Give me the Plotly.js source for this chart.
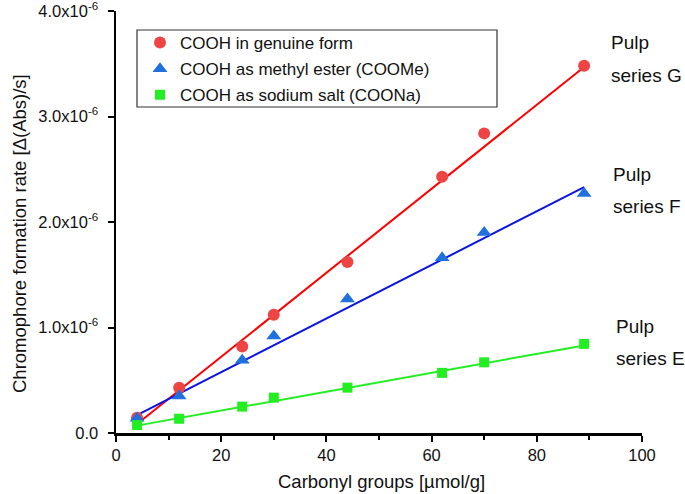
<!DOCTYPE html>
<html>
<head>
<meta charset="utf-8">
<script src="https://cdn.plot.ly/plotly-3.0.1.min.js"></script>
<style>
  html, body { margin: 0; padding: 0; background: #fff; }
  #chart { width: 685px; height: 494px; }
</style>
</head>
<body>
<div id="chart"></div>
<script>
// carbonyl groups [µmol/g]
const carbonyl = [4, 12, 24, 30, 44, 62, 70, 89];

// chromophore formation rate per series
const rateGenuine = [0.145e-6, 0.43e-6, 0.82e-6, 1.12e-6, 1.62e-6, 2.43e-6, 2.84e-6, 3.48e-6];
const rateMethyl  = [0.14e-6, 0.35e-6, 0.69e-6, 0.92e-6, 1.27e-6, 1.66e-6, 1.90e-6, 2.27e-6];
const rateSodium  = [0.075e-6, 0.135e-6, 0.25e-6, 0.335e-6, 0.43e-6, 0.57e-6, 0.67e-6, 0.845e-6];

// regression line endpoints
const fitX = [4, 89];
const fitGenuine = [0.085e-6, 3.47e-6];
const fitMethyl  = [0.17e-6, 2.33e-6];
const fitSodium  = [0.07e-6, 0.83e-6];

const legendNames = ['COOH in genuine form', 'COOH as methyl ester (COOMe)', 'COOH as sodium salt (COONa)'];
const seriesLabels = ['series G', 'series F', 'series E'];

const yTickVals = [0, 1e-6, 2e-6, 3e-6, 4e-6];
const yTickText = ['0.0', '1.0x10<sup>-6</sup>', '2.0x10<sup>-6</sup>', '3.0x10<sup>-6</sup>', '4.0x10<sup>-6</sup>'];

// plot area in pixels, used to place paper-referenced labels
const L = 116, R = 642, T = 11, B = 433;
const px = x => (x - L) / (R - L);
const py = y => (B - y) / (B - T);

const fitLine = (y, color) => ({
    x: fitX, y: y, mode: 'lines', showlegend: false, hoverinfo: 'skip',
    line: { color: color, width: 2 }
});

const traces = [
    fitLine(fitGenuine, '#ff0000'),
    fitLine(fitMethyl, '#0a14e6'),
    fitLine(fitSodium, '#22ee22'),
    { x: carbonyl, y: rateGenuine, mode: 'markers', name: legendNames[0], legendgroup: 'g',
      marker: { symbol: 'circle', size: 12, color: '#ee4444' }, cliponaxis: false },
    { x: carbonyl, y: rateMethyl, mode: 'markers', name: legendNames[1], legendgroup: 'f',
      marker: { symbol: 'triangle-up', size: 13, color: '#2070dd' }, cliponaxis: false },
    { x: carbonyl, y: rateSodium, mode: 'markers', name: legendNames[2], legendgroup: 'e',
      marker: { symbol: 'square', size: 10, color: '#22ee22' }, cliponaxis: false }
];

// "Pulp / series X" labels on the right
const labelPos = [[42, 76], [174, 206], [326, 358]];
const labelX = [609, 611, 614];
const annotations = [];
labelPos.forEach((p, i) => {
    annotations.push({ xref: 'paper', yref: 'paper', x: px(labelX[i]), y: py(p[0]),
        text: 'Pulp', showarrow: false, xanchor: 'left', yanchor: 'middle',
        font: { size: 19, color: '#111' } });
    annotations.push({ xref: 'paper', yref: 'paper', x: px(labelX[i]), y: py(p[1]),
        text: seriesLabels[i], showarrow: false, xanchor: 'left', yanchor: 'middle',
        font: { size: 19, color: '#111' } });
});

// axis titles
annotations.push({ xref: 'paper', yref: 'paper', x: px(381), y: py(481),
    text: 'Carbonyl groups [µmol/g]', showarrow: false, xanchor: 'center', yanchor: 'middle',
    font: { size: 18.5, color: '#111' } });
annotations.push({ xref: 'paper', yref: 'paper', x: px(19), y: py(234), textangle: -90,
    text: 'Chromophore formation rate [Δ(Abs)/s]', showarrow: false, xanchor: 'center', yanchor: 'middle',
    font: { size: 18.5, color: '#111' } });

const layout = {
    width: 685, height: 494,
    margin: { l: L, r: 685 - R, t: T, b: 494 - B },
    paper_bgcolor: '#fff', plot_bgcolor: '#fff',
    font: { family: 'Liberation Sans, Arial, sans-serif', size: 17, color: '#111' },
    xaxis: {
        range: [0, 100], dtick: 20, showgrid: false, zeroline: false,
        showline: true, linecolor: '#000', linewidth: 2.5,
        ticks: 'outside', ticklen: 6, tickwidth: 2, tickcolor: '#000',
        minor: { dtick: 10, ticks: 'outside', ticklen: 4, tickwidth: 2, tickcolor: '#000' },
        tickfont: { size: 16.5 }, ticklabeloverflow: 'allow'
    },
    yaxis: {
        range: [0, 4e-6], tickvals: yTickVals, ticktext: yTickText, showgrid: false, zeroline: false,
        showline: true, linecolor: '#000', linewidth: 2.5,
        ticks: 'outside', ticklen: 6, tickwidth: 2, tickcolor: '#000',
        tickfont: { size: 16.5 }, ticklabeloverflow: 'allow', ticklabelstandoff: 6
    },
    legend: {
        x: px(140), y: py(25), xanchor: 'left', yanchor: 'top',
        borderwidth: 0, bgcolor: 'rgba(0,0,0,0)',
        font: { size: 17 }, traceorder: 'grouped', tracegroupgap: 1
    },
    shapes: [{
        type: 'rect', xref: 'paper', yref: 'paper',
        x0: px(137), x1: px(497), y0: py(107), y1: py(30),
        line: { color: '#333', width: 1.2 }, fillcolor: 'rgba(0,0,0,0)', layer: 'below'
    }],
    annotations: annotations,
    showlegend: true
};

Plotly.newPlot('chart', traces, layout, { displayModeBar: false, staticPlot: true });
</script>
</body>
</html>
